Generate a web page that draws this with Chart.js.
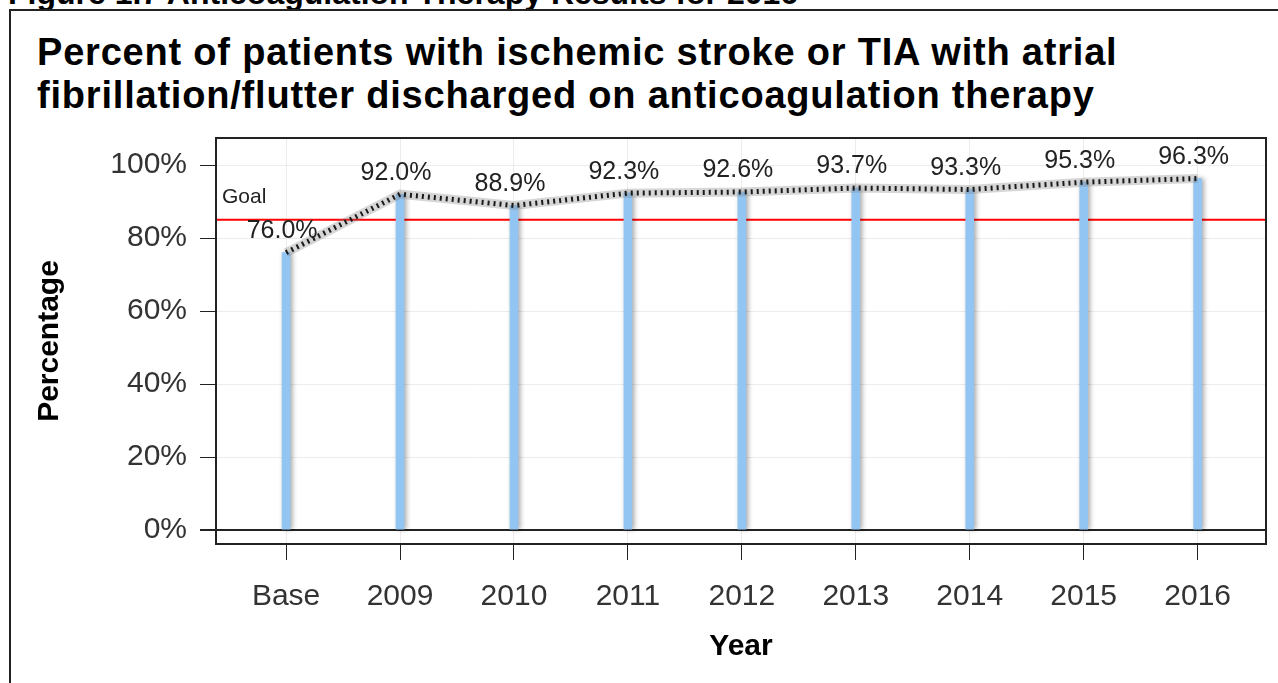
<!DOCTYPE html>
<html>
<head>
<meta charset="utf-8">
<script src="https://cdn.jsdelivr.net/npm/chart.js@4.4.1/dist/chart.umd.min.js"></script>
<style>
  html, body { margin: 0; padding: 0; background: #fff; overflow: hidden; }
  body { width: 1278px; height: 683px; position: relative; font-family: "Liberation Sans", Arial, sans-serif; }
  .fig-head { position: absolute; left: 8px; top: -23px; font-size: 32px; line-height: 32px; font-weight: bold; color: #000; white-space: nowrap; }
  .frame { position: absolute; left: 9px; top: 9px; width: 1300px; height: 700px; border: 2px solid #222; box-sizing: border-box; }
  .title { position: absolute; left: 37px; top: 31px; font-size: 38px; letter-spacing: 0.8px; font-weight: bold; line-height: 43px; color: #000; white-space: nowrap; }
  #chart { position: absolute; left: 0; top: 0; }
</style>
</head>
<body>
<div class="fig-head">Figure 1.7 Anticoagulation Therapy Results for 2016</div>
<div class="frame"></div>
<div class="title">Percent of patients with ischemic stroke or TIA with atrial<br>fibrillation/flutter discharged on anticoagulation therapy</div>
<canvas id="chart" width="1278" height="683"></canvas>
<script>
// values
const years = ['Base', '2009', '2010', '2011', '2012', '2013', '2014', '2015', '2016'];
const percentages = [76.0, 92.0, 88.9, 92.3, 92.6, 93.7, 93.3, 95.3, 96.3];
const yTicks = [0, 20, 40, 60, 80, 100];
const goalValue = 85;

const points = percentages.map((v, i) => ({ x: i, y: v }));

// bar shadow + goal line + frame around plot area
const extras = {
  id: 'extras',
  beforeDatasetDraw(chart, args) {
    const ds = chart.data.datasets[args.index];
    if (ds.type === 'bar') {
      chart.ctx.save();
      chart.ctx.shadowColor = 'rgba(0,0,0,0.35)';
      chart.ctx.shadowBlur = 5;
      chart.ctx.shadowOffsetX = 2;
    }
  },
  afterDatasetDraw(chart, args) {
    const ds = chart.data.datasets[args.index];
    if (ds.type === 'bar') chart.ctx.restore();
  },
  beforeDatasetsDraw(chart) {
    const { ctx, chartArea, scales } = chart;
    const y = scales.y.getPixelForValue(goalValue);
    ctx.save();
    ctx.strokeStyle = '#ff0000';
    ctx.lineWidth = 2;
    ctx.beginPath();
    ctx.moveTo(chartArea.left, y);
    ctx.lineTo(chartArea.right, y);
    ctx.stroke();
    ctx.fillStyle = '#222';
    ctx.font = '21px "Liberation Sans", Arial, sans-serif';
    ctx.textAlign = 'left';
    ctx.textBaseline = 'bottom';
    ctx.fillText('Goal', chartArea.left + 6, y - 12);
    ctx.restore();
  },
  afterDraw(chart) {
    const { ctx, chartArea } = chart;
    ctx.save();
    ctx.strokeStyle = '#222';
    ctx.lineWidth = 2;
    ctx.strokeRect(chartArea.left, chartArea.top, chartArea.right - chartArea.left, chartArea.bottom - chartArea.top);
    ctx.restore();
  },
  afterDatasetsDraw(chart) {
    const { ctx, scales } = chart;
    ctx.save();
    ctx.fillStyle = '#222';
    ctx.font = '25px "Liberation Sans", Arial, sans-serif';
    ctx.textAlign = 'center';
    ctx.textBaseline = 'bottom';
    percentages.forEach((v, i) => {
      const px = scales.x.getPixelForValue(i) - 4;
      const py = scales.y.getPixelForValue(v) - 9;
      ctx.fillText(v.toFixed(1) + '%', px, py);
    });
    ctx.restore();
  }
};

new Chart(document.getElementById('chart'), {
  data: {
    datasets: [
      {
        type: 'line',
        data: points,
        borderColor: 'rgba(120,120,120,0.3)',
        borderWidth: 9,
        pointRadius: 0,
        order: 1
      },
      {
        type: 'line',
        data: points,
        borderColor: '#1a1a1a',
        borderWidth: 5,
        borderDash: [2, 4],
        pointRadius: 0,
        order: 0
      },
      {
        type: 'bar',
        data: points,
        backgroundColor: '#93c5f3',
        barThickness: 8,
        order: 2
      }
    ]
  },
  options: {
    responsive: false,
    animation: false,
    layout: { padding: { left: 20, top: 138, right: 12, bottom: 12 } },
    plugins: {
      legend: { display: false },
      tooltip: { enabled: false }
    },
    scales: {
      x: {
        type: 'linear',
        offset: false,
        min: -0.615,
        max: 8.6,
        afterBuildTicks: s => { s.ticks = years.map((_, i) => ({ value: i })); },
        afterFit: s => { s.height = 683 - 544 - 12; },
        ticks: {
          callback: v => years[v],
          color: '#333',
          font: { family: '"Liberation Sans", Arial, sans-serif', size: 30 },
          padding: 19,
          maxRotation: 0,
          autoSkip: false
        },
        grid: { offset: false, color: '#ececec', tickColor: '#222', tickLength: 16, lineWidth: 1 },
        border: { display: false },
        title: {
          display: true,
          text: 'Year',
          color: '#000',
          font: { family: '"Liberation Sans", Arial, sans-serif', size: 30, weight: 'bold' },
          padding: { top: 0, bottom: 6 }
        }
      },
      y: {
        type: 'linear',
        min: -3.8,
        max: 107.4,
        afterBuildTicks: s => { s.ticks = yTicks.map(v => ({ value: v })); },
        afterFit: s => { s.width = 216 - 20; },
        ticks: {
          callback: v => v + '%',
          color: '#333',
          font: { family: '"Liberation Sans", Arial, sans-serif', size: 30 },
          padding: 13
        },
        grid: {
          color: c => (c.tick && c.tick.value === 0 ? '#222' : '#ececec'),
          lineWidth: c => (c.tick && c.tick.value === 0 ? 2 : 1),
          tickColor: '#222',
          tickLength: 16
        },
        border: { display: false },
        title: {
          display: true,
          text: 'Percentage',
          color: '#000',
          font: { family: '"Liberation Sans", Arial, sans-serif', size: 30, weight: 'bold' },
          padding: { top: 12, bottom: 0 }
        }
      }
    }
  },
  plugins: [extras]
});
</script>
</body>
</html>
